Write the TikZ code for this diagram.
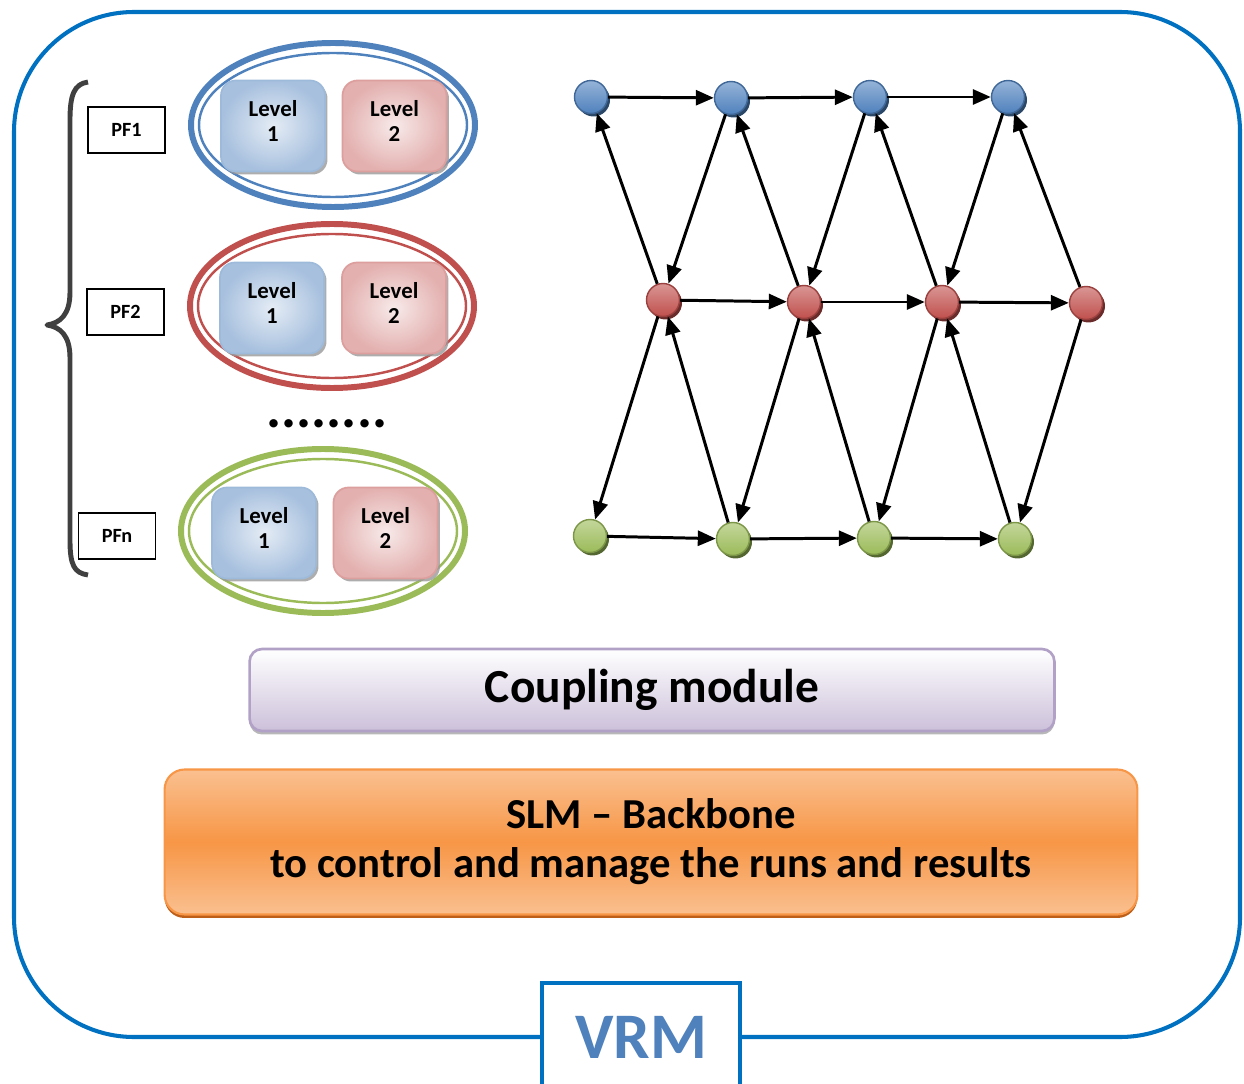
\documentclass[tikz,border=0pt]{standalone}
\usepackage{fontspec}
\setmainfont{Carlito}
\usetikzlibrary{arrows.meta,shadows}

\definecolor{vrmblue}{RGB}{0,112,192}
\definecolor{vrmtext}{RGB}{79,129,189}
\definecolor{pfblue}{RGB}{79,129,189}
\definecolor{pfred}{RGB}{192,80,77}
\definecolor{pfgreen}{RGB}{155,187,89}
\definecolor{bracegray}{RGB}{64,64,64}
\definecolor{lavender}{RGB}{204,192,218}
\definecolor{lavedge}{RGB}{178,161,199}
\definecolor{slmorange}{RGB}{247,150,70}
\definecolor{slmlight}{RGB}{250,192,144}
\definecolor{slmedge}{RGB}{190,95,25}

\tikzset{
  pfbox/.style={draw,line width=0.8pt,minimum width=1.54cm,minimum height=0.92cm,
    font=\fontsize{11.5}{12}\selectfont\bfseries},
  levelbox/.style={rounded corners=0.3cm,minimum width=2.08cm,minimum height=1.82cm,
    align=center,font=\fontsize{13}{14.5}\selectfont\bfseries,line width=1pt,text depth=0.2cm},
  levelone/.style={levelbox,draw=pfblue!55,inner color=pfblue!15,outer color=pfblue!50,
    drop shadow={shadow xshift=0.05cm,shadow yshift=-0.06cm,fill=black!40,opacity=0.8}},
  leveltwo/.style={levelbox,draw=pfred!55,inner color=pfred!12,outer color=pfred!45,
    drop shadow={shadow xshift=0.05cm,shadow yshift=-0.06cm,fill=black!40,opacity=0.8}},
  ball/.style={circle,minimum size=0.66cm,inner sep=0pt,line width=0.8pt,
    draw=#1!80!black,top color=#1!60!white,bottom color=#1,
    drop shadow={shadow xshift=0.05cm,shadow yshift=-0.06cm,fill=#1!55!black,opacity=1}},
  link/.style={-{Triangle[length=0.36cm,width=0.3cm]},line width=1.7pt},
}

\begin{document}
\begin{tikzpicture}[x=0.02cm,y=-0.02cm]
\useasboundingbox (0,0) rectangle (1244,1084);
% outer frame
\draw[vrmblue,line width=2.3pt,rounded corners=2.4cm] (14,12) rectangle (1240,1037);
\filldraw[fill=white,draw=vrmblue,line width=2.3pt] (542,1100) -- (542,983) -- (740,983) -- (740,1100);
\node[text=vrmtext,font=\fontsize{37}{40}\selectfont\bfseries] (vrm) at (641,1037) {VRM};

% brace
\draw[bracegray,line width=2.8pt,line join=round] (88,82) .. controls (74,84) and (70,95) .. (70,120) -- (70,292)
  .. controls (70,315) and (60,323) .. (47,325) .. controls (60,327) and (70,335) .. (70,358)
  -- (70,540) .. controls (70,565) and (74,573) .. (88,575);

% platforms
\node[pfbox] (pf1) at (126.5,130) {PF1};
\node[pfbox] (pf2) at (125.5,312) {PF2};
\node[pfbox] (pfn) at (117,536) {PFn};

\draw[pfblue,line width=3.4pt] (333,125) ellipse [x radius=142,y radius=82];
\draw[pfblue,line width=1.4pt] (333,125) ellipse [x radius=134,y radius=72];
\draw[pfred,line width=3.4pt] (332,306) ellipse [x radius=142,y radius=82];
\draw[pfred,line width=1.4pt] (332,306) ellipse [x radius=134,y radius=72];
\draw[pfgreen,line width=3.4pt] (323,531) ellipse [x radius=142,y radius=82];
\draw[pfgreen,line width=1.4pt] (323,531) ellipse [x radius=134,y radius=72];

\node[levelone] (p1l1) at (273,126) {Level\\1};
\node[leveltwo] (p1l2) at (394.5,126) {Level\\2};
\node[levelone] (p2l1) at (272,308) {Level\\1};
\node[leveltwo] (p2l2) at (394,308) {Level\\2};
\node[levelone] (pnl1) at (264,533) {Level\\1};
\node[leveltwo] (pnl2) at (385.5,533) {Level\\2};

\node[font=\fontsize{32}{32}\selectfont\bfseries] (dots) at (327,424) {........};

% coupling graph
\node[ball=pfblue] (b1) at (591,97) {};
\node[ball=pfblue] (b2) at (731,98) {};
\node[ball=pfblue] (b3) at (870,97) {};
\node[ball=pfblue] (b4) at (1008,97) {};
\node[ball=pfred] (r1) at (663,300) {};
\node[ball=pfred] (r2) at (804,302) {};
\node[ball=pfred] (r3) at (942,302) {};
\node[ball=pfred] (r4) at (1086,303) {};
\node[ball=pfgreen] (g1) at (590,536) {};
\node[ball=pfgreen] (g2) at (733,539) {};
\node[ball=pfgreen] (g3) at (874,538) {};
\node[ball=pfgreen] (g4) at (1015,539) {};

\draw[link] (b1) -- (b2);
\draw[link] (b2) -- (b3);
\draw[link] (b3) -- (b4);
\draw[link] (r1) -- (r2);
\draw[link] (r2) -- (r3);
\draw[link] (r3) -- (r4);
\draw[link] (g1) -- (g2);
\draw[link] (g2) -- (g3);
\draw[link] (g3) -- (g4);

\draw[link] (r1) -- (b1);
\draw[link] (b2) -- (r1);
\draw[link] (r2) -- (b2);
\draw[link] (b3) -- (r2);
\draw[link] (r3) -- (b3);
\draw[link] (b4) -- (r3);
\draw[link] (r4) -- (b4);

\draw[link] (r1) -- (g1);
\draw[link] (g2) -- (r1);
\draw[link] (r2) -- (g2);
\draw[link] (g3) -- (r2);
\draw[link] (r3) -- (g3);
\draw[link] (g4) -- (r3);
\draw[link] (r4) -- (g4);

% modules
\node[rounded corners=0.25cm,minimum width=16.1cm,minimum height=1.64cm,
  top color=white,bottom color=lavender,draw=lavedge,line width=1.5pt,
  drop shadow={shadow xshift=0cm,shadow yshift=-0.07cm,fill=black!35,opacity=0.8},
  font=\fontsize{27}{28}\selectfont\bfseries] (cpl) at (652,690) {Coupling module};
\node[rounded corners=0.4cm,minimum width=19.46cm,minimum height=2.9cm,align=center,
  top color=slmlight,bottom color=slmlight,middle color=slmorange,draw=slmorange,line width=1.2pt,
  drop shadow={shadow xshift=0cm,shadow yshift=-0.07cm,fill=slmedge,opacity=1},
  font=\fontsize{24.3}{28}\selectfont\bfseries] (slm) at (651,842)
  {SLM \textendash{} Backbone\\to control and manage the runs and results};
\end{tikzpicture}
\end{document}
